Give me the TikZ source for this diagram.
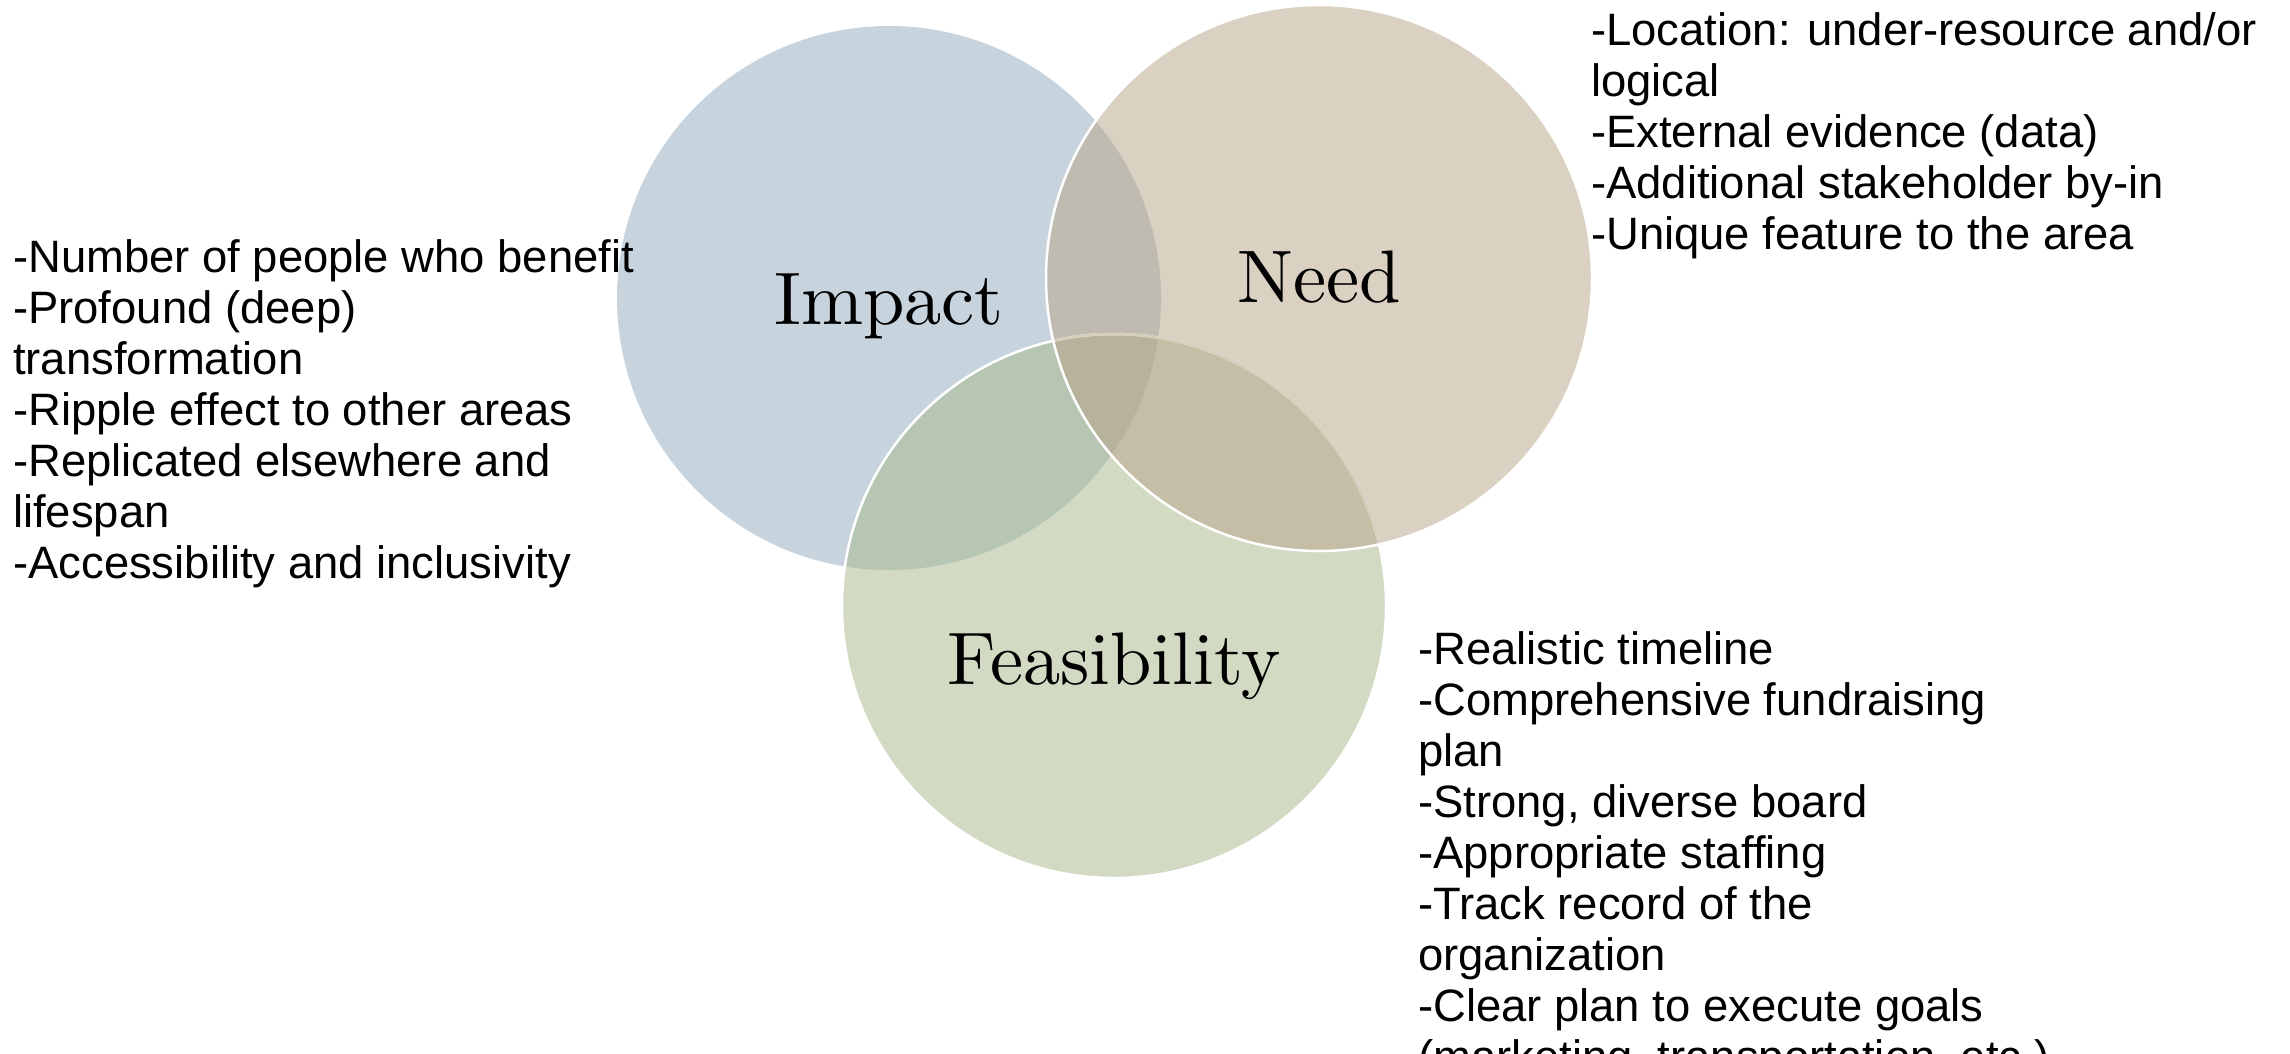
\documentclass[tikz,border=0pt]{standalone}
\usepackage{fontspec}
\newfontfamily\bodyfont{Liberation Sans}
\newfontfamily\labfont{lmroman10-regular}[Extension=.otf]
\definecolor{cI}{HTML}{C8D4DD}
\definecolor{cN}{HTML}{DBD1C2}
\definecolor{cF}{HTML}{D2DAC4}
\definecolor{cIN}{HTML}{BFBBB0}
\definecolor{cIF}{HTML}{B7C5B3}
\definecolor{cNF}{HTML}{C5BDA6}
\definecolor{cINF}{HTML}{B7B29C}
\definecolor{cFaint}{HTML}{D6CDBA}
\begin{document}
\newlength\reflen
\settowidth\reflen{\bodyfont\fontsize{10pt}{12pt}\selectfont -Number of people who benefit}
\pgfmathsetmacro\bsize{10*621/\reflen}
\begin{tikzpicture}[x=1pt,y=-1pt,
  body/.style={anchor=base west, inner sep=0pt, font=\bodyfont\fontsize{\bsize pt}{51pt}\selectfont},
  lab/.style={anchor=base, inner sep=0pt, font=\labfont\fontsize{74.5pt}{80pt}\selectfont},
  rim/.style={white, line width=2.5pt}]
\useasboundingbox (0,0) rectangle (2290,1053);
\clip (0,0) rectangle (2290,1053);
\def\pI{(889,298) circle [radius=272pt]}
\def\pN{(1319,278) circle [radius=273pt]}
\def\pF{(1114,606) circle [radius=272pt]}
% single regions
\fill[cI] \pI;
\fill[cF] \pF;
\fill[cN] \pN;
% overlaps
\begin{scope}
  \clip \pN;
  \fill[cNF] \pF;
\end{scope}
\begin{scope}
  \clip \pI;
  \fill[cIN] \pN;
  \fill[cIF] \pF;
  \clip \pN;
  \fill[cINF] \pF;
\end{scope}
% outlines
\draw[rim] \pF;
\begin{scope}
  \clip \pN;
  \draw[cFaint, line width=2.5pt] \pF;
\end{scope}
\draw[rim] \pN;
% labels
\node[lab] (impact) at (889,324) {Impact};
\node[lab] (need) at (1319,302) {Need};
\node[lab] (feas) at (1114,684) {Feasibility};
% text blocks
\foreach \t [count=\i] in {-Number of people who benefit, -Profound (deep), transformation, -Ripple effect to other areas, -Replicated elsewhere and, lifespan, -Accessibility and inclusivity}
  \node[body] (L\i) at (13,{272+51*(\i-1)}) {\t};
\foreach \t [count=\i] in {-Location: under-resource and/or, logical, -External evidence (data), -Additional stakeholder by-in, -Unique feature to the area}
  \node[body] (R\i) at (1591,{45+51*(\i-1)}) {\t};
\foreach \t [count=\i] in {-Realistic timeline, -Comprehensive fundraising, plan, {-Strong, diverse board}, -Appropriate staffing, -Track record of the, organization, -Clear plan to execute goals, {(marketing, transportation, etc.)}}
  \node[body] (B\i) at (1418,{664+51*(\i-1)}) {\t};
\end{tikzpicture}
\end{document}
